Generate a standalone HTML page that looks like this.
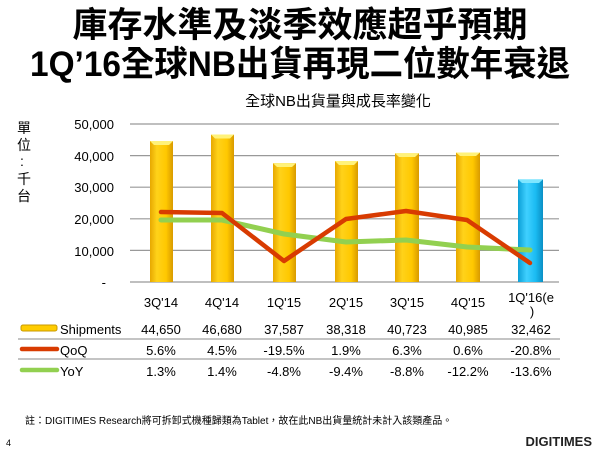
<!DOCTYPE html>
<html><head><meta charset="utf-8"><style>
html,body{margin:0;padding:0;background:#fff}
svg{display:block}
text{font-family:"Liberation Sans","Noto Sans CJK TC",sans-serif}
</style></head><body>
<svg width="600" height="450" viewBox="0 0 600 450">
<defs>
<linearGradient id="gy" x1="0" x2="1"><stop offset="0" stop-color="#e7a800"/><stop offset="0.3" stop-color="#ffd21a"/><stop offset="0.7" stop-color="#ffc800"/><stop offset="1" stop-color="#d89a00"/></linearGradient>
<linearGradient id="gb" x1="0" x2="1"><stop offset="0" stop-color="#0c9fd6"/><stop offset="0.35" stop-color="#3fd0ff"/><stop offset="0.7" stop-color="#1bbcf3"/><stop offset="1" stop-color="#0a8fc4"/></linearGradient>
</defs>
<text x="300" y="37" font-size="35" font-weight="bold" text-anchor="middle">庫存水準及淡季效應超乎預期</text>
<text x="300" y="76" font-size="35" font-weight="bold" text-anchor="middle" textLength="540" lengthAdjust="spacingAndGlyphs">1Q’16全球NB出貨再現二位數年衰退</text>
<text x="338" y="106" font-size="15" text-anchor="middle">全球NB出貨量與成長率變化</text>
<g font-size="14"><text x="17" y="133">單</text><text x="17" y="150">位</text><text x="20" y="166">:</text><text x="17" y="184">千</text><text x="17" y="201">台</text></g>
<g stroke="#999" stroke-width="1.2">
<line x1="130" x2="559" y1="124" y2="124"/><line x1="130" x2="559" y1="155.6" y2="155.6"/><line x1="130" x2="559" y1="187.2" y2="187.2"/><line x1="130" x2="559" y1="218.8" y2="218.8"/><line x1="130" x2="559" y1="250.4" y2="250.4"/><line x1="130" x2="559" y1="282" y2="282"/>
</g>
<g font-size="13" text-anchor="end">
<text x="114" y="129">50,000</text><text x="114" y="161">40,000</text><text x="114" y="192">30,000</text><text x="114" y="224">20,000</text><text x="114" y="256">10,000</text><text x="106" y="287">-</text>
</g>
<g>
<rect x="150" y="141" width="23" height="141" fill="url(#gy)"/><polygon points="150,141 173,141 169,145 154,145" fill="#fff27a"/>
<rect x="211" y="134.5" width="23" height="147.5" fill="url(#gy)"/><polygon points="211,134.5 234,134.5 230,138.5 215,138.5" fill="#fff27a"/>
<rect x="273" y="163.2" width="23" height="118.8" fill="url(#gy)"/><polygon points="273,163.2 296,163.2 292,167 277,167" fill="#fff27a"/>
<rect x="335" y="161" width="23" height="121" fill="url(#gy)"/><polygon points="335,161 358,161 354,165 339,165" fill="#fff27a"/>
<rect x="395" y="153.3" width="24" height="128.7" fill="url(#gy)"/><polygon points="395,153.3 419,153.3 415,157 399,157" fill="#fff27a"/>
<rect x="456" y="152.5" width="24" height="129.5" fill="url(#gy)"/><polygon points="456,152.5 480,152.5 476,156 460,156" fill="#fff27a"/>
<rect x="518" y="179.4" width="25" height="102.6" fill="url(#gb)"/><polygon points="518,179.4 543,179.4 539,183 522,183" fill="#7ee6ff"/>
</g>
<polyline points="161,220 222,220 284,234 346,242 406,240 467,247 530,250" fill="none" stroke="#92d050" stroke-width="5" stroke-linejoin="round" stroke-linecap="round"/>
<polyline points="161,212 222,213 284,261 346,219 406,211 467,220 530,263" fill="none" stroke="#d83b01" stroke-width="4.5" stroke-linejoin="round" stroke-linecap="round"/>
<g font-size="13" text-anchor="middle">
<text x="161" y="307">3Q'14</text><text x="222" y="307">4Q'14</text><text x="284" y="307">1Q'15</text><text x="346" y="307">2Q'15</text><text x="407" y="307">3Q'15</text><text x="468" y="307">4Q'15</text><text x="531" y="302">1Q'16(e</text><text x="532" y="316">)</text>
</g>
<line x1="18" x2="560" y1="339" y2="339" stroke="#888" stroke-width="1"/>
<line x1="18" x2="560" y1="359" y2="359" stroke="#888" stroke-width="1"/>
<rect x="21" y="325" width="36" height="6" rx="2" fill="#ffcc00" stroke="#c89a00" stroke-width="1"/>
<line x1="22" x2="57" y1="349" y2="349" stroke="#d83b01" stroke-width="4.5" stroke-linecap="round"/>
<line x1="22" x2="57" y1="370" y2="370" stroke="#92d050" stroke-width="4.5" stroke-linecap="round"/>
<g font-size="13">
<text x="60" y="334">Shipments</text><text x="60" y="355">QoQ</text><text x="60" y="376">YoY</text>
</g>
<g font-size="13" text-anchor="middle">
<text x="161" y="334">44,650</text><text x="222" y="334">46,680</text><text x="284" y="334">37,587</text><text x="346" y="334">38,318</text><text x="407" y="334">40,723</text><text x="468" y="334">40,985</text><text x="531" y="334">32,462</text>
<text x="161" y="355">5.6%</text><text x="222" y="355">4.5%</text><text x="284" y="355">-19.5%</text><text x="346" y="355">1.9%</text><text x="407" y="355">6.3%</text><text x="468" y="355">0.6%</text><text x="531" y="355">-20.8%</text>
<text x="161" y="376">1.3%</text><text x="222" y="376">1.4%</text><text x="284" y="376">-4.8%</text><text x="346" y="376">-9.4%</text><text x="407" y="376">-8.8%</text><text x="468" y="376">-12.2%</text><text x="531" y="376">-13.6%</text>
</g>
<text x="25" y="424" font-size="10">註：DIGITIMES Research將可拆卸式機種歸類為Tablet，故在此NB出貨量統計未計入該類產品。</text>
<text x="6" y="446" font-size="9">4</text>
<text x="592" y="446" font-size="13" font-weight="bold" text-anchor="end" fill="#222">DIGITIMES</text>
</svg>
</body></html>
